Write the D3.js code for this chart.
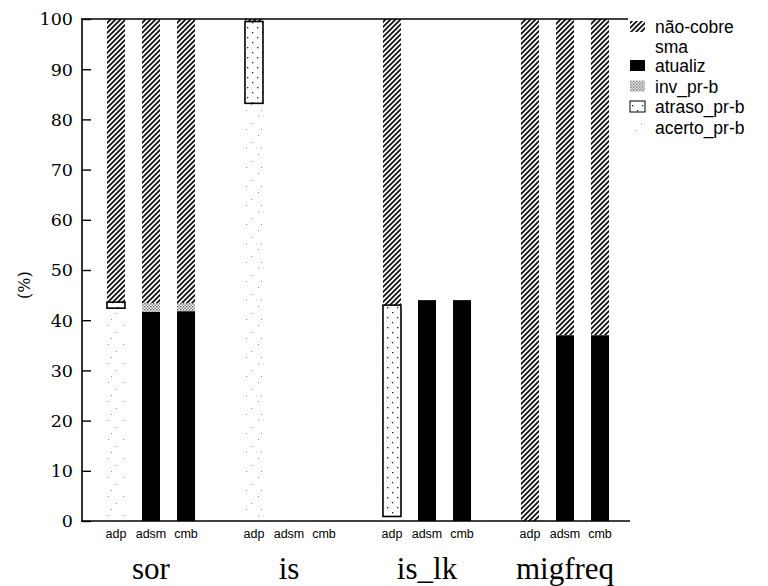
<!DOCTYPE html>
<html>
<head>
<meta charset="utf-8">
<script src="https://cdn.jsdelivr.net/npm/d3@7"></script>
<style>
  body { margin: 0; background: #fff; }
  svg { display: block; }
</style>
</head>
<body>
<script>
// categories
const groups = ["sor", "is", "is_lk", "migfreq"];
const variants = ["adp", "adsm", "cmb"];
// legend order, top to bottom
const legendNames = ["não-cobre sma", "atualiz", "inv_pr-b", "atraso_pr-b", "acerto_pr-b"];
// stack order, bottom to top
const stackNames = ["acerto_pr-b", "atraso_pr-b", "atualiz", "inv_pr-b", "não-cobre sma"];
// values per group, listed adp, adsm, cmb (percent)
const acerto = [[42.4, 0, 0], [83.2, 0, 0], [0.9, 0, 0], [0, 0, 0]];
const atraso = [[1.2, 0, 0], [16.3, 0, 0], [42.1, 0, 0], [0, 0, 0]];
const atualiz = [[0, 41.7, 41.8], [0, 0, 0], [0, 44, 44], [0, 37, 37]];
const inv = [[0, 1.7, 1.6], [0, 0, 0], [0, 0, 0], [0, 0, 0]];
const naoCobre = [[56.4, 56.6, 56.6], [0.5, 0, 0], [57, 0, 0], [100, 63, 63]];
const yTicks = [0, 10, 20, 30, 40, 50, 60, 70, 80, 90, 100];

const width = 768, height = 586;

const svg = d3.select("body").append("svg")
  .attr("width", width)
  .attr("height", height);

// fill patterns
const defs = svg.append("defs");

const hatch = defs.append("pattern")
  .attr("id", "hatch")
  .attr("patternUnits", "userSpaceOnUse")
  .attr("width", 5).attr("height", 5);
hatch.append("path")
  .attr("d", "M-1,6 L6,-1 M-1,1 L1,-1 M4,6 L6,4")
  .attr("stroke", "#111")
  .attr("stroke-width", 1.8);

const sparse = defs.append("pattern")
  .attr("id", "sparse")
  .attr("patternUnits", "userSpaceOnUse")
  .attr("width", 15).attr("height", 19);
[[3, 2], [11, 9], [6, 15]].forEach(([x, y]) =>
  sparse.append("rect").attr("x", x).attr("y", y)
    .attr("width", 1).attr("height", 1).attr("fill", "#999"));

const dotted = defs.append("pattern")
  .attr("id", "dotted")
  .attr("patternUnits", "userSpaceOnUse")
  .attr("width", 10).attr("height", 10);
dotted.append("rect").attr("width", 10).attr("height", 10).attr("fill", "#fff");
[[2, 2], [7, 7]].forEach(([x, y]) =>
  dotted.append("rect").attr("x", x).attr("y", y)
    .attr("width", 1.3).attr("height", 1.3).attr("fill", "#222"));

const stipple = defs.append("pattern")
  .attr("id", "stipple")
  .attr("patternUnits", "userSpaceOnUse")
  .attr("width", 3).attr("height", 3);
stipple.append("rect").attr("width", 3).attr("height", 3).attr("fill", "#fff");
stipple.append("rect").attr("width", 1.5).attr("height", 1.5).attr("fill", "#666");
stipple.append("rect").attr("x", 1.5).attr("y", 1.5).attr("width", 1.5).attr("height", 1.5).attr("fill", "#888");

const styles = {
  "acerto_pr-b": { fill: "url(#sparse)", stroke: "none" },
  "atraso_pr-b": { fill: "url(#dotted)", stroke: "#000" },
  "inv_pr-b": { fill: "url(#stipple)", stroke: "none" },
  "atualiz": { fill: "#000", stroke: "none" },
  "não-cobre sma": { fill: "url(#hatch)", stroke: "none" }
};

// scales
const x0 = d3.scaleBand().domain(groups).range([82, 634]);
const x1 = d3.scaleBand().domain(variants).range([0, x0.bandwidth()])
  .paddingInner(0.486).paddingOuter(0.713);
const y = d3.scaleLinear().domain([0, 100]).range([521, 19]);

// one row per bar for stacking
const byName = {
  "acerto_pr-b": acerto, "atraso_pr-b": atraso, "atualiz": atualiz,
  "inv_pr-b": inv, "não-cobre sma": naoCobre
};
const rows = [];
groups.forEach((g, gi) => variants.forEach((v, vi) => {
  const row = { group: g, variant: v };
  stackNames.forEach(s => row[s] = byName[s][gi][vi]);
  rows.push(row);
}));

const stacked = d3.stack().keys(stackNames)(rows);

svg.append("g")
  .selectAll("g")
  .data(stacked)
  .join("g")
  .each(function (layer) {
    const st = styles[layer.key];
    d3.select(this).selectAll("rect")
      .data(layer.filter(d => d[1] - d[0] > 0))
      .join("rect")
      .attr("x", d => x0(d.data.group) + x1(d.data.variant))
      .attr("width", x1.bandwidth())
      .attr("y", d => y(d[1]))
      .attr("height", d => y(d[0]) - y(d[1]))
      .attr("fill", st.fill)
      .attr("stroke", st.stroke)
      .attr("stroke-width", 1.6);
  });

// frame: left axis, top and bottom lines
svg.append("line")
  .attr("x1", 82).attr("x2", 82)
  .attr("y1", y(100)).attr("y2", y(0))
  .attr("stroke", "#000").attr("stroke-width", 1.6);
svg.append("line")
  .attr("x1", 81).attr("x2", 628)
  .attr("y1", y(100)).attr("y2", y(100))
  .attr("stroke", "#000").attr("stroke-width", 1.6);
svg.append("line")
  .attr("x1", 81).attr("x2", 630)
  .attr("y1", y(0)).attr("y2", y(0))
  .attr("stroke", "#000").attr("stroke-width", 1.6);

const yAxis = svg.append("g")
  .attr("transform", "translate(82,0)")
  .call(d3.axisRight(y).tickValues(yTicks).tickSize(9).tickFormat(""));
yAxis.select(".domain").remove();
yAxis.selectAll("line").attr("stroke-width", 1.4);

svg.append("g")
  .selectAll("text")
  .data(yTicks)
  .join("text")
  .attr("x", 73)
  .attr("y", d => y(d))
  .attr("dy", "0.36em")
  .attr("text-anchor", "end")
  .attr("font-family", "DejaVu Serif, serif")
  .attr("font-size", 17.5)
  .text(d => d);

svg.append("text")
  .attr("transform", `translate(30,${y(47)}) rotate(-90)`)
  .attr("text-anchor", "middle")
  .attr("font-family", "DejaVu Serif, serif")
  .attr("font-size", 16)
  .text("(%)");

// bar labels
svg.append("g")
  .selectAll("text")
  .data(rows)
  .join("text")
  .attr("x", d => x0(d.group) + x1(d.variant) + x1.bandwidth() / 2)
  .attr("y", 538)
  .attr("text-anchor", "middle")
  .attr("font-family", "Liberation Sans, Arial, sans-serif")
  .attr("font-size", 12.5)
  .text(d => d.variant);

// group labels
svg.append("g")
  .selectAll("text")
  .data(groups)
  .join("text")
  .attr("x", d => x0(d) + x0.bandwidth() / 2)
  .attr("y", 579)
  .attr("text-anchor", "middle")
  .attr("font-family", "Liberation Serif, Times New Roman, serif")
  .attr("font-size", 31)
  .text(d => d);

// legend
const legendY = [33, 72, 92.5, 113, 134];
const legend = svg.append("g")
  .selectAll("g")
  .data(legendNames)
  .join("g")
  .attr("transform", (d, i) => `translate(630,${legendY[i]})`);
legend.append("rect")
  .attr("x", 0).attr("y", -12)
  .attr("width", 15).attr("height", 11)
  .attr("fill", d => styles[d].fill)
  .attr("stroke", d => styles[d].stroke)
  .attr("stroke-width", 1);
legend.each(function (d) {
  d.split(" ").forEach((part, i) =>
    d3.select(this).append("text")
      .attr("x", 25)
      .attr("y", i * 19.5)
      .attr("font-family", "Liberation Sans, Arial, sans-serif")
      .attr("font-size", 17.5)
      .text(part));
});
</script>
</body>
</html>
